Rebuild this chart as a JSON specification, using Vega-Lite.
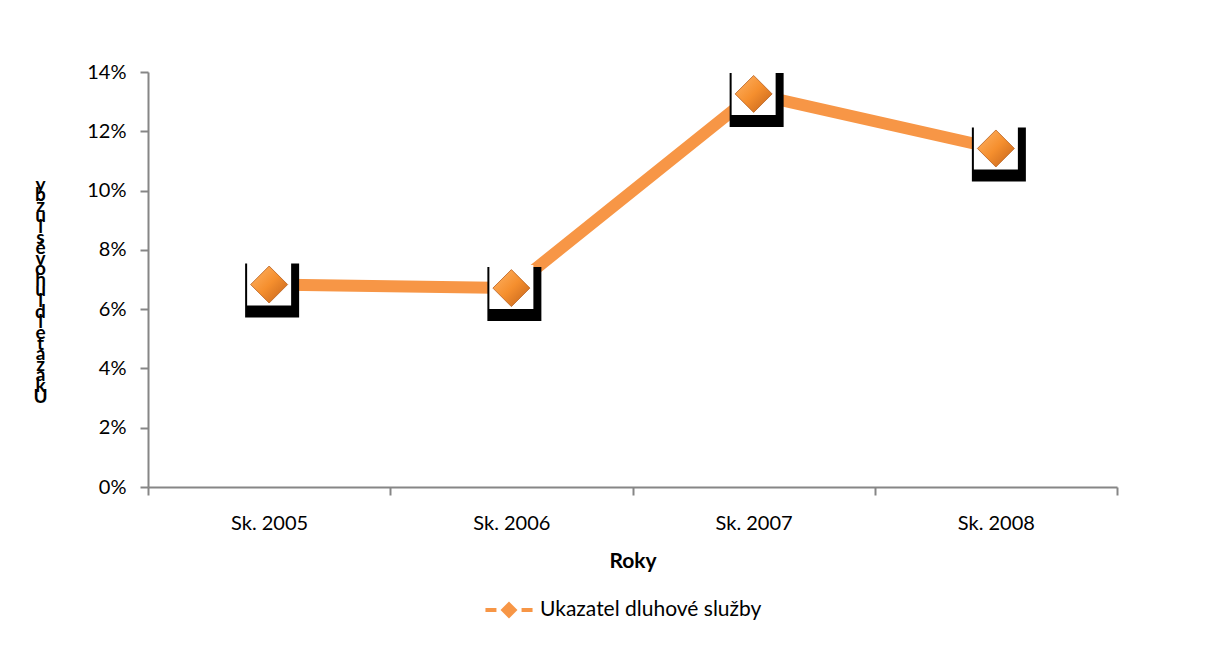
{
  "$schema": "https://vega.github.io/schema/vega-lite/v6.json",
  "width": 969,
  "height": 415,
  "autosize": {"type": "none"},
  "padding": {"left": 148, "top": 72, "right": 103, "bottom": 159},
  "background": "white",
  "config": {
    "view": {"stroke": null},
    "font": "Lato",
    "axis": {"grid": false, "domainColor": "#868686", "domainWidth": 2, "tickColor": "#868686", "tickWidth": 2, "tickSize": 8, "labelColor": "#000000", "labelFont": "Lato", "labelFontSize": 20, "titleColor": "#000000", "titleFont": "Lato"}
  },
  "data": {
    "values": [
      {"rok": "Sk. 2005", "hodnota": 0.0683, "serie": "Ukazatel dluhové služby"},
      {"rok": "Sk. 2006", "hodnota": 0.0671, "serie": "Ukazatel dluhové služby"},
      {"rok": "Sk. 2007", "hodnota": 0.1326, "serie": "Ukazatel dluhové služby"},
      {"rok": "Sk. 2008", "hodnota": 0.1142, "serie": "Ukazatel dluhové služby"}
    ]
  },
  "encoding": {
    "x": {
      "field": "rok", "type": "nominal", "sort": null,
      "scale": {"type": "band", "paddingInner": 0, "paddingOuter": 0},
      "axis": {"title": "Roky", "titleFontSize": 21, "titleFontWeight": "bold", "titlePadding": 17, "labelAngle": 0, "labelPadding": 18, "tickBand": "extent"}
    },
    "y": {
      "field": "hodnota", "type": "quantitative",
      "scale": {"domain": [0, 0.14], "nice": false, "zero": true},
      "axis": {
        "values": [0, 0.02, 0.04, 0.06, 0.08, 0.1, 0.12, 0.14],
        "format": ".0%",
        "labelPadding": 14,
        "title": ["y", "b", "ž", "u", "l", "s", " ", "é", "v", "o", "h", "u", "l", "d", " ", "l", "e", "t", "a", "z", "a", "k", "U"],
        "titleAngle": 0,
        "titleAlign": "center",
        "titleBaseline": "top",
        "titleFontSize": 19,
        "titleFontWeight": "bold",
        "titleLineHeight": 10.6,
        "titleX": -108,
        "titleY": 103
      }
    }
  },
  "layer": [
    {
      "mark": {"type": "line", "color": "#F79646", "strokeWidth": 12}
    },
    {
      "mark": {"type": "point", "shape": "square", "size": 2916, "filled": true, "color": "#000000", "opacity": 1, "xOffset": 3, "yOffset": 6}
    },
    {
      "mark": {"type": "point", "shape": "square", "size": 1936, "filled": true, "color": "#FFFFFF", "opacity": 1, "yOffset": -1}
    },
    {
      "mark": {
        "type": "point", "shape": "diamond", "size": 1369, "filled": true, "opacity": 1,
        "fill": {"gradient": "linear", "x1": 0, "y1": 0, "x2": 1, "y2": 1, "stops": [{"offset": 0, "color": "#FFB468"}, {"offset": 0.5, "color": "#F58F2E"}, {"offset": 1, "color": "#C0601A"}]},
        "stroke": "#B8601E", "strokeWidth": 0.8
      },
      "encoding": {
        "color": {
          "field": "serie", "type": "nominal",
          "scale": {"range": ["#F79646"]},
          "legend": {
            "title": null,
            "orient": "none",
            "legendX": 343,
            "legendY": 520,
            "padding": 0,
            "labelFont": "Lato",
            "labelFontSize": 21,
            "labelColor": "#000000",
            "labelOffset": 13,
            "labelLimit": 400,
            "symbolSize": 986,
            "symbolType": "M-1.5,0H-0.8M0.8,0H1.5M0,-0.36L0.36,0L0,0.36L-0.36,0Z",
            "symbolStrokeWidth": 4,
            "symbolStrokeColor": "#F79646",
            "symbolFillColor": "#F79646",
            "encode": {"symbols": {"update": {"stroke": {"value": "#F79646"}, "fill": {"value": "#F08A2E"}, "strokeWidth": {"value": 4}, "opacity": {"value": 1}}}}
          }
        }
      }
    }
  ]
}
